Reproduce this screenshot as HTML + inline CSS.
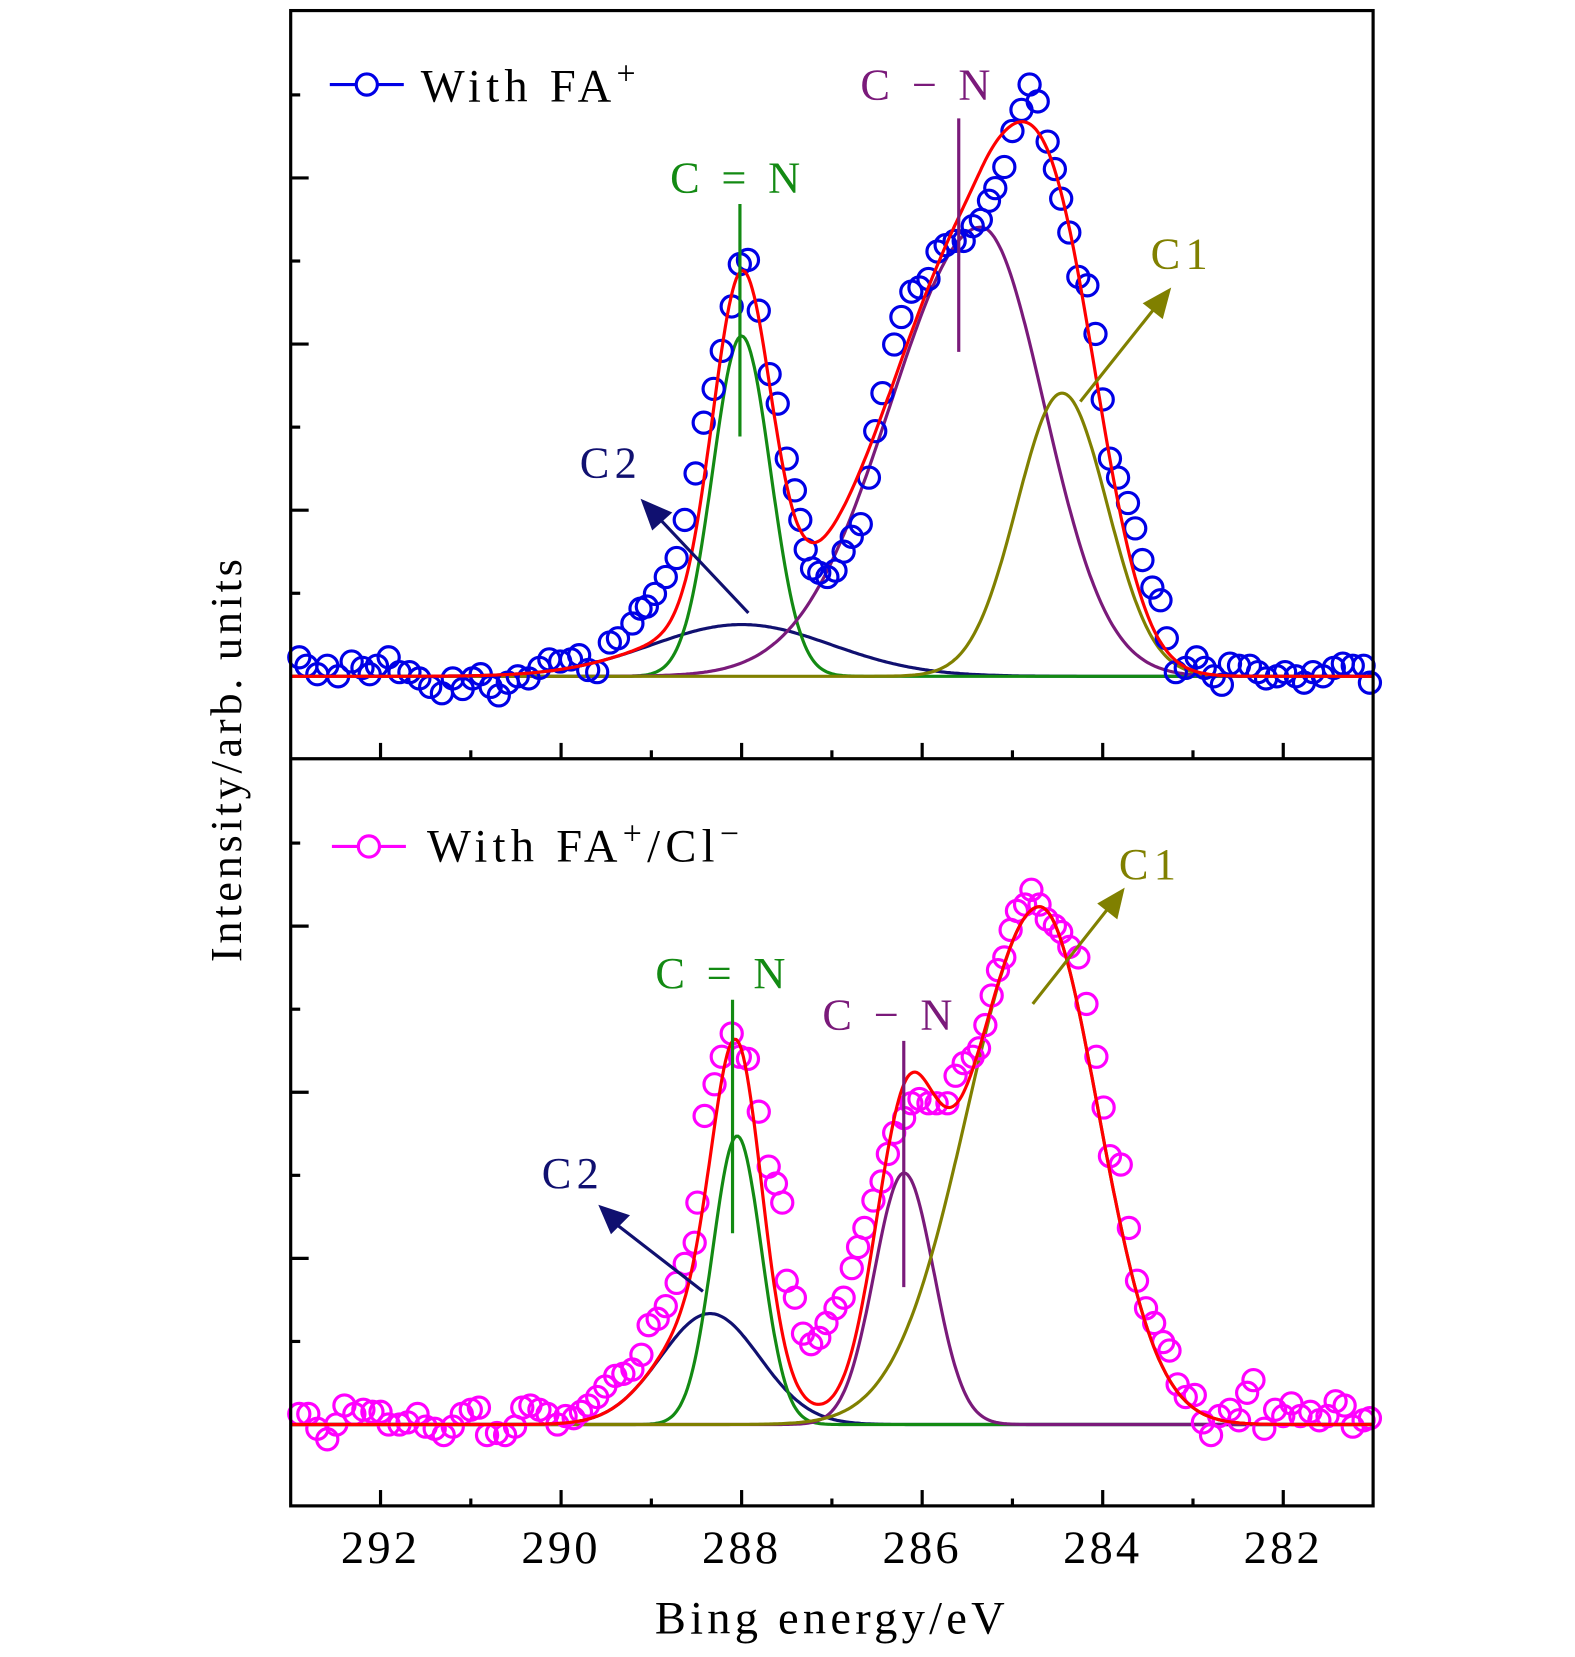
<!DOCTYPE html>
<html><head><meta charset="utf-8"><style>
html,body{margin:0;padding:0;background:#fff;}
svg{display:block;font-family:"Liberation Serif",serif;}
</style></head><body>
<svg id="chart" width="1575" height="1657" viewBox="0 0 1490 1568" preserveAspectRatio="none" xmlns="http://www.w3.org/2000/svg">
<rect x="0" y="0" width="1490" height="1568" fill="#fff"/>
<g id="plot"></g>
<rect x="275" y="10" width="1024" height="1415" fill="none" stroke="#000" stroke-width="3"/>
<line x1="275" y1="718" x2="1299" y2="718" stroke="#000" stroke-width="3"/>
<g id="ticks"></g>
<text transform="translate(228,718) rotate(-90)" text-anchor="middle" font-size="42" letter-spacing="3.5">Intensity/arb. units</text>
<text x="787" y="1546" text-anchor="middle" font-size="44" letter-spacing="4">Bing energy/eV</text>
<g>
<line x1="312" y1="80" x2="382" y2="80" stroke="#0000e6" stroke-width="3"/>
<circle cx="347" cy="80" r="10" fill="#fff" stroke="#0000e6" stroke-width="3"/>
<text x="398" y="96" font-size="44" letter-spacing="5">With FA<tspan dy="-16" font-size="32">+</tspan></text>
</g>
<g>
<line x1="314" y1="801" x2="384" y2="801" stroke="#ff00ff" stroke-width="3"/>
<circle cx="349" cy="801" r="10" fill="#fff" stroke="#ff00ff" stroke-width="3"/>
<text x="404" y="815" font-size="44" letter-spacing="5">With FA<tspan dy="-16" font-size="32">+</tspan><tspan dy="16">/Cl</tspan><tspan dy="-16" font-size="32">−</tspan></text>
</g>
<g font-size="42" letter-spacing="5">
<text x="698" y="182" text-anchor="middle" fill="#138a13">C = N</text>
<text x="878" y="94" text-anchor="middle" fill="#7a1a7a">C − N</text>
<text x="1118" y="254" text-anchor="middle" fill="#808000">C1</text>
<text x="578" y="452" text-anchor="middle" fill="#101070">C2</text>
<text x="684" y="935" text-anchor="middle" fill="#138a13">C = N</text>
<text x="842" y="974" text-anchor="middle" fill="#7a1a7a">C − N</text>
<text x="1088" y="832" text-anchor="middle" fill="#808000">C1</text>
<text x="542" y="1124" text-anchor="middle" fill="#101070">C2</text>
</g>
<g stroke-width="3">
<line x1="700" y1="193" x2="700" y2="413" stroke="#138a13"/>
<line x1="907" y1="112" x2="907" y2="333" stroke="#7a1a7a"/>
<line x1="693" y1="946" x2="693" y2="1167" stroke="#138a13"/>
<line x1="855" y1="985" x2="855" y2="1218" stroke="#7a1a7a"/>
<line x1="708" y1="580" x2="625" y2="492" stroke="#101070"/>
<polygon points="606,472 636,485 617,502" fill="#101070"/>
<line x1="1022" y1="380" x2="1092" y2="292" stroke="#808000"/>
<polygon points="1108,272 1100,302 1081,287" fill="#808000"/>
<line x1="665" y1="1222" x2="585" y2="1160" stroke="#101070"/>
<polygon points="566,1140 596,1150 578,1168" fill="#101070"/>
<line x1="977" y1="950" x2="1048" y2="860" stroke="#808000"/>
<polygon points="1064,840 1057,870 1038,855" fill="#808000"/>
</g>
</svg>
<script>
const topE=[292.90,292.82,292.70,292.59,292.47,292.32,292.20,292.12,292.04,291.91,291.79,291.68,291.57,291.45,291.32,291.20,291.09,290.98,290.89,290.78,290.69,290.59,290.48,290.36,290.24,290.13,290.01,289.89,289.80,289.70,289.60,289.46,289.37,289.21,289.12,289.05,288.96,288.84,288.72,288.63,288.51,288.42,288.31,288.22,288.11,288.02,287.93,287.81,287.69,287.60,287.50,287.41,287.35,287.29,287.22,287.14,287.05,286.96,286.87,286.78,286.68,286.59,286.52,286.44,286.31,286.23,286.12,286.03,285.93,285.83,285.74,285.64,285.54,285.44,285.35,285.26,285.19,285.09,285.00,284.90,284.81,284.72,284.61,284.53,284.46,284.37,284.27,284.17,284.08,284.00,283.92,283.83,283.72,283.64,283.56,283.45,283.36,283.29,283.19,283.08,282.96,282.87,282.77,282.68,282.59,282.49,282.37,282.28,282.19,282.07,281.98,281.86,281.77,281.67,281.56,281.44,281.34,281.23,281.11,281.04];
const topI=[18,10,2,10,0,14,8,2,10,18,4,4,-2,-10,-16,-2,-12,-2,2,-10,-18,-6,0,-2,8,16,14,16,20,6,4,32,36,50,64,66,78,94,112,148,192,240,272,308,350,390,394,346,286,258,206,176,148,120,102,98,94,100,118,132,144,188,232,268,314,340,364,368,376,402,408,412,412,426,432,450,462,482,516,536,560,544,506,480,452,420,378,370,324,262,206,188,164,140,110,84,72,36,4,8,18,8,0,-8,12,10,10,4,-2,0,4,0,-6,4,0,8,12,10,10,-6];
const botE=[292.90,292.80,292.70,292.59,292.49,292.40,292.29,292.19,292.09,292.00,291.91,291.79,291.70,291.59,291.50,291.40,291.30,291.20,291.10,291.00,290.91,290.82,290.71,290.62,290.51,290.43,290.34,290.24,290.15,290.04,289.95,289.86,289.78,289.70,289.60,289.51,289.40,289.31,289.21,289.11,289.03,288.93,288.84,288.72,288.63,288.52,288.49,288.41,288.30,288.22,288.11,288.02,287.93,287.81,287.70,287.62,287.55,287.50,287.41,287.32,287.23,287.14,287.06,286.96,286.87,286.78,286.71,286.64,286.54,286.45,286.38,286.31,286.20,286.12,286.03,285.93,285.84,285.72,285.63,285.54,285.44,285.37,285.30,285.23,285.16,285.09,285.02,284.95,284.86,284.79,284.70,284.62,284.53,284.46,284.37,284.27,284.18,284.07,283.99,283.92,283.80,283.71,283.62,283.52,283.43,283.33,283.26,283.17,283.08,282.98,282.89,282.80,282.71,282.59,282.49,282.40,282.33,282.21,282.09,282.00,281.91,281.81,281.70,281.60,281.51,281.42,281.32,281.23,281.11,281.04];
const botI=[10,10,-4,-14,0,18,10,14,12,12,0,0,2,10,-2,-4,-10,-2,10,14,16,-10,-8,-10,-2,16,18,14,10,0,8,6,12,18,26,36,46,48,52,66,94,100,112,134,152,172,210,292,322,348,370,348,346,296,244,228,210,136,120,86,76,82,96,110,120,148,168,186,212,230,256,276,290,304,308,304,304,304,330,342,348,356,378,406,430,442,468,486,492,506,492,478,472,466,452,442,398,348,300,254,246,186,136,110,96,78,70,38,26,28,2,-10,8,14,4,30,42,-4,14,8,20,8,12,4,8,22,18,-2,4,6];
// peak components: [center eV, amplitude, sigma-left, sigma-right]
const topCN2=[288.0,322,0.32,0.32];
const topCN=[285.35,425,1.0,0.7];
const topC1=[284.45,268,0.5,0.5];
const topC2=[288.0,49,1.0,1.0];
const botCN2=[288.05,273,0.27,0.27];
const botCN=[286.2,238,0.33,0.33];
const botC1=[284.7,490,0.8,0.65];
const botC2=[288.35,105,0.55,0.55];
const xTicks=[292,290,288,286,284,282];

const NS="http://www.w3.org/2000/svg";
const X0=274.6,XPX=85.4,EMAX=293;
function xs(e){return X0+(EMAX-e)*XPX;}
const TOPBASE=640,BOTBASE=1348;
function ys(i,base){return base-i;}
function g(p,e){const s=e>p[0]?p[2]:p[3];return p[1]*Math.exp(-(e-p[0])*(e-p[0])/(2*s*s));}
const plot=document.getElementById('plot');
function mk(t,a){const el=document.createElementNS(NS,t);for(const k in a)el.setAttribute(k,a[k]);return el;}
function curve(comps,base,color,name){
  let d="";
  for(let e=293;e>=281;e-=0.02){let v=0;comps.forEach(c=>v+=g(c,e));d+=(d?"L":"M")+xs(e).toFixed(1)+","+ys(v,base).toFixed(1);}
  const p=mk('path',{d:d,fill:'none',stroke:color,'stroke-width':3});
  
  
  plot.appendChild(p);
}
function scatter(E,I,base,color,name){
  const gg=mk('g',{});
  
  
  E.forEach((e,k)=>{
    const c=mk('circle',{cx:xs(e),cy:ys(I[k],base),r:10,fill:'none',stroke:color,'stroke-width':3});
    
    
    gg.appendChild(c);
  });
  plot.appendChild(gg);
}
curve([topC2],TOPBASE,'#101070','top-c2-fit');
curve([topCN2],TOPBASE,'#138a13','top-c-double-n-fit');
curve([topCN],TOPBASE,'#7a1a7a','top-c-n-fit');
curve([topC1],TOPBASE,'#808000','top-c1-fit');
scatter(topE,topI,TOPBASE,'#0000e6','top-data-series');
curve([topC2,topCN2,topCN,topC1],TOPBASE,'#ff0000','top-envelope-fit');
curve([botC2],BOTBASE,'#101070','bottom-c2-fit');
curve([botCN2],BOTBASE,'#138a13','bottom-c-double-n-fit');
curve([botCN],BOTBASE,'#7a1a7a','bottom-c-n-fit');
curve([botC1],BOTBASE,'#808000','bottom-c1-fit');
scatter(botE,botI,BOTBASE,'#ff00ff','bottom-data-series');
curve([botC2,botCN2,botCN,botC1],BOTBASE,'#ff0000','bottom-envelope-fit');

const tk=document.getElementById('ticks');
for(let e=292;e>=282;e--){
  const x=xs(e);
  const long=(e%2===0);
  const l1=mk('line',{x1:x,y1:1425,x2:x,y2:long?1410:1418,stroke:'#000','stroke-width':3});
  
  
  tk.appendChild(l1);
  const l2=mk('line',{x1:x,y1:718,x2:x,y2:long?703:710,stroke:'#000','stroke-width':3});
  
  
  tk.appendChild(l2);
}
xTicks.forEach(v=>{
  const t=mk('text',{x:xs(v),y:1479,'text-anchor':'middle','font-size':44,'letter-spacing':3});
  t.textContent=v;
  
  
  tk.appendChild(t);
});
[[TOPBASE],[BOTBASE]].forEach(([b])=>{
  for(let k=1;k<=7;k++){
    const y=b-k*78.6;
    const long=(k%2===0);
    const l=mk('line',{x1:275,y1:y,x2:long?292:284,y2:y,stroke:'#000','stroke-width':3});
    
    
    tk.appendChild(l);
  }
});
</script>
</body></html>
